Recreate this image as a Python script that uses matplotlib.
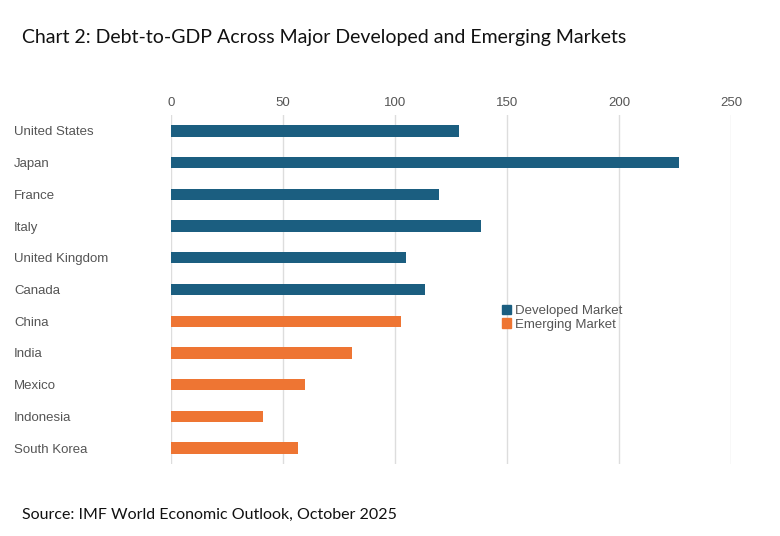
import matplotlib
matplotlib.use("Agg")
import matplotlib.pyplot as plt
from matplotlib.patches import Patch

countries = ["United States","Japan","France","Italy","United Kingdom","Canada",
             "China","India","Mexico","Indonesia","South Korea"]
values = [128.4,227,119.5,138.5,105,113.3,102.7,80.8,59.8,41,56.7]
groups = ["Developed Market"]*6 + ["Emerging Market"]*5
colors = {"Developed Market":"#1b5e80","Emerging Market":"#ee7533"}
ticks = [0,50,100,150,200,250]

plt.rcParams['font.family'] = ['Lato','DejaVu Sans']
fig = plt.figure(figsize=(7.8,5.36), dpi=100)
ax = fig.add_axes([171/780, 1-464/536, 560/780, (464-115)/536])
y = list(range(len(countries)))
ax.barh(y, values, height=0.36, color=[colors[g] for g in groups], zorder=3)
ax.set_ylim(len(countries)-0.5, -0.5)
ax.set_xlim(0,250)
ax.set_xticks(ticks)
ax.xaxis.tick_top()
ax.tick_params(axis='x', length=0, pad=4, labelsize=9.5, colors='#555555')
ax.tick_params(axis='y', length=0, pad=113, labelsize=9.5, colors='#555555')
ax.set_yticks(y)
ax.set_yticklabels(countries, ha='left', family=['Liberation Sans','DejaVu Sans'])
for t in ax.get_xticklabels():
    t.set_family(['Liberation Sans','DejaVu Sans'])
ax.grid(axis='x', color='#dddddd', lw=1, zorder=0)
for s in ax.spines.values(): s.set_visible(False)
handles=[Patch(color=colors[k], label=k) for k in colors]
ax.legend(handles=handles, loc='upper left', bbox_to_anchor=(0.57,0.49), frameon=False,
          prop={'family':['Liberation Sans','DejaVu Sans'], 'size':9.5},
          handlelength=0.7, handleheight=0.7, handletextpad=0.3,
          labelspacing=0.1, labelcolor='#555555')
fig.text(22/780, 1-38/536, "Chart 2: Debt-to-GDP Across Major Developed and Emerging Markets",
         fontsize=14, va='center', color='#111111')
fig.text(22/780, 1-515/536, "Source: IMF World Economic Outlook, October 2025",
         fontsize=11.5, va='center', color='#111111')
fig.savefig("out.png", dpi=100)
